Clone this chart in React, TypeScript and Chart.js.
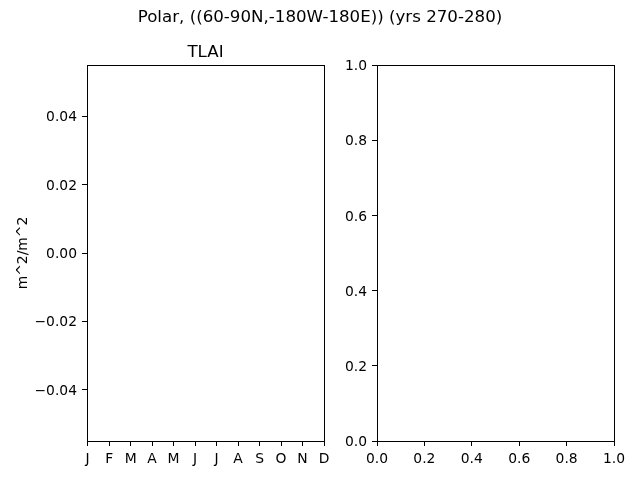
import React, { useEffect, useRef } from "react";
import { Chart, registerables } from "chart.js";

Chart.register(...registerables);

// ---- data ----
const suptitle = "Polar, ((60-90N,-180W-180E)) (yrs 270-280)";
const leftTitle = "TLAI";
const leftYLabel = "m^2/m^2";
const months = ["J", "F", "M", "A", "M", "J", "J", "A", "S", "O", "N", "D"];
// The reference panel is empty: no values plotted
const tlaiValues: (number | null)[] = [null, null, null, null, null, null, null, null, null, null, null, null];
const leftYTicks = [-0.04, -0.02, 0.0, 0.02, 0.04];
const leftYMin = -0.055;
const leftYMax = 0.055;
const rightTicks = [0.0, 0.2, 0.4, 0.6, 0.8, 1.0];

const FONT = "DejaVu Sans";
const TICK_SIZE = 13.89;
const TITLE_SIZE = 16.67;

const framePlugin = {
  id: "frame",
  afterDraw(chart: any) {
    const { ctx, chartArea } = chart;
    const l = Math.round(chartArea.left) + 0.5;
    const t = Math.round(chartArea.top) + 0.5;
    const r = Math.round(chartArea.right) + 0.5;
    const b = Math.round(chartArea.bottom) + 0.5;
    ctx.save();
    ctx.strokeStyle = "#000";
    ctx.lineWidth = 1;
    ctx.strokeRect(l, t, r - l, b - t);
    ctx.restore();
  },
};

const gridOpts = {
  display: true,
  drawOnChartArea: false,
  drawTicks: true,
  tickLength: 5,
  tickColor: "#000",
  tickWidth: 1,
};

const minus = (s: string) => s.replace("-", "\u2212");

function makeLeft(canvas: HTMLCanvasElement) {
  return new Chart(canvas, {
    type: "line",
    data: {
      datasets: [
        {
          label: leftTitle,
          data: tlaiValues.map((v, i) => ({ x: i, y: v })) as any,
          borderColor: "#1f77b4",
          pointRadius: 0,
          spanGaps: false,
        },
      ],
    },
    options: {
      responsive: false,
      animation: false,
      layout: { padding: { left: 0, top: 65, right: 26, bottom: 0 } },
      plugins: { legend: { display: false }, tooltip: { enabled: false }, title: { display: false } },
      scales: {
        x: {
          type: "linear",
          min: -0.03,
          max: 11,
          grid: gridOpts as any,
          border: { display: false },
          afterBuildTicks: (scale: any) => {
            scale.ticks = months.map((_, i) => ({ value: i }));
          },
          afterFit: (scale: any) => {
            scale.height = 39;
          },
          ticks: {
            color: "#000",
            padding: 5,
            maxRotation: 0,
            autoSkip: false,
            font: { family: FONT, size: TICK_SIZE },
            callback: (v: any) => months[Math.round(Number(v))] ?? "",
          },
        },
        y: {
          type: "linear",
          min: leftYMin,
          max: leftYMax,
          grid: gridOpts as any,
          border: { display: false },
          afterBuildTicks: (scale: any) => {
            scale.ticks = leftYTicks.map((v) => ({ value: v }));
          },
          afterFit: (scale: any) => {
            scale.width = 87;
          },
          title: {
            display: true,
            text: leftYLabel,
            color: "#000",
            font: { family: FONT, size: TICK_SIZE },
            padding: { top: 15, bottom: 0 },
          },
          ticks: {
            color: "#000",
            padding: 5,
            labelOffset: 1.5,
            font: { family: FONT, size: TICK_SIZE },
            callback: (v: any) => minus(Number(v).toFixed(2)),
          },
        },
      },
    },
    plugins: [framePlugin],
  });
}

function makeRight(canvas: HTMLCanvasElement) {
  return new Chart(canvas, {
    type: "line",
    data: { datasets: [{ data: [] }] },
    options: {
      responsive: false,
      animation: false,
      layout: { padding: { left: 0, top: 65, right: 26, bottom: 0 } },
      plugins: { legend: { display: false }, tooltip: { enabled: false } },
      scales: {
        x: {
          type: "linear",
          min: 0,
          max: 1,
          grid: gridOpts as any,
          border: { display: false },
          afterBuildTicks: (scale: any) => {
            scale.ticks = rightTicks.map((v) => ({ value: v }));
          },
          afterFit: (scale: any) => {
            scale.height = 39;
          },
          ticks: {
            color: "#000",
            padding: 5,
            maxRotation: 0,
            autoSkip: false,
            font: { family: FONT, size: TICK_SIZE },
            callback: (v: any) => Number(v).toFixed(1),
          },
        },
        y: {
          type: "linear",
          min: 0,
          max: 1,
          grid: gridOpts as any,
          border: { display: false },
          afterBuildTicks: (scale: any) => {
            scale.ticks = rightTicks.map((v) => ({ value: v }));
          },
          afterFit: (scale: any) => {
            scale.width = 47;
          },
          ticks: {
            color: "#000",
            padding: 5,
            labelOffset: 1.5,
            font: { family: FONT, size: TICK_SIZE },
            callback: (v: any) => Number(v).toFixed(1),
          },
        },
      },
    },
    plugins: [framePlugin],
  });
}

export default function App() {
  const leftRef = useRef<HTMLCanvasElement>(null);
  const rightRef = useRef<HTMLCanvasElement>(null);

  useEffect(() => {
    const a = makeLeft(leftRef.current!);
    const b = makeRight(rightRef.current!);
    return () => {
      a.destroy();
      b.destroy();
    };
  }, []);

  const textStyle: React.CSSProperties = {
    position: "absolute",
    fontFamily: FONT,
    fontSize: TITLE_SIZE,
    lineHeight: `${TITLE_SIZE}px`,
    color: "#000",
    whiteSpace: "nowrap",
    textAlign: "center",
  };

  return (
    <div style={{ position: "fixed", left: 0, top: 0, width: 640, height: 480, background: "#fff", overflow: "hidden" }}>
      <canvas ref={leftRef} width={350} height={480} style={{ position: "absolute", left: 0, top: 0, width: 350, height: 480 }} />
      <canvas ref={rightRef} width={310} height={480} style={{ position: "absolute", left: 330, top: 0, width: 310, height: 480 }} />
      <div style={{ ...textStyle, left: 0, width: 640, top: 9 }}>{suptitle}</div>
      <div style={{ ...textStyle, left: 87, width: 237, top: 44 }}>{leftTitle}</div>
    </div>
  );
}
